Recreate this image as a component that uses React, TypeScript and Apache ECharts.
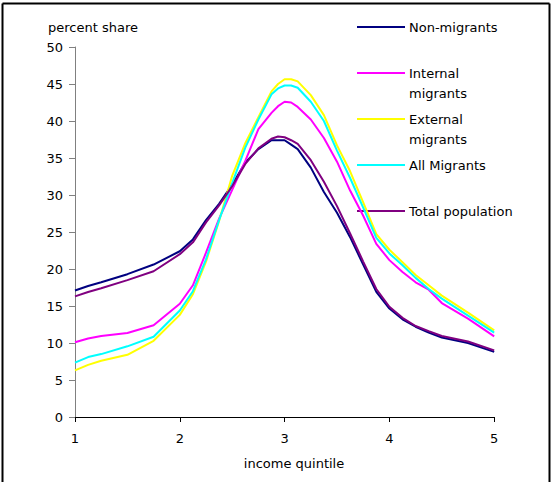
import React, { useEffect, useRef } from "react";
import * as echarts from "echarts";

const xs = [1, 1.125, 1.25, 1.5, 1.75, 2, 2.125, 2.25, 2.375, 2.5, 2.625, 2.75, 2.875, 2.9375, 3, 3.0625, 3.125, 3.25, 3.375, 3.5, 3.625, 3.75, 3.875, 4, 4.125, 4.25, 4.375, 4.5, 4.75, 5];

const nonMigrants = [17.1, 17.7, 18.2, 19.3, 20.6, 22.4, 24.0, 26.6, 28.8, 31.4, 34.4, 36.2, 37.4, 37.4, 37.4, 36.8, 36.2, 33.7, 30.4, 27.6, 24.3, 20.6, 16.9, 14.65, 13.2, 12.2, 11.4, 10.75, 10.0, 8.8];
const internalMigrants = [10.1, 10.6, 10.95, 11.35, 12.4, 15.3, 17.8, 22.2, 26.8, 30.7, 34.6, 38.9, 41.1, 42.0, 42.6, 42.5, 41.9, 40.2, 37.7, 34.5, 30.6, 27.2, 23.4, 21.2, 19.6, 18.2, 17.2, 15.4, 13.3, 10.9];
const externalMigrants = [6.3, 7.05, 7.6, 8.4, 10.3, 13.8, 16.6, 21.0, 26.5, 32.6, 37.0, 40.5, 44.0, 45.0, 45.65, 45.65, 45.35, 43.5, 40.8, 36.7, 33.2, 29.0, 24.7, 22.6, 20.9, 19.2, 17.8, 16.4, 14.1, 11.7];
const allMigrants = [7.35, 8.1, 8.5, 9.55, 10.85, 14.4, 17.0, 21.3, 26.6, 31.6, 36.4, 40.2, 43.6, 44.4, 44.8, 44.8, 44.5, 42.6, 40.0, 36.0, 32.3, 28.3, 24.2, 22.1, 20.5, 18.8, 17.3, 16.0, 13.7, 11.4];
const totalPopulation = [16.3, 16.9, 17.4, 18.5, 19.7, 22.0, 23.6, 26.3, 28.6, 31.2, 34.2, 36.3, 37.6, 37.9, 37.8, 37.4, 36.9, 34.7, 31.8, 28.5, 24.8, 21.0, 17.3, 14.9, 13.4, 12.3, 11.6, 10.95, 10.2, 9.0];

const seriesNames = ["Non-migrants", "Internal migrants", "External migrants", "All Migrants", "Total population"];
const legendLabels = ["Non-migrants", "Internal\nmigrants", "External\nmigrants", "All Migrants", "Total population"];
const seriesColors = ["#000080", "#FF00FF", "#FFFF00", "#00FFFF", "#800080"];
const seriesValues = [nonMigrants, internalMigrants, externalMigrants, allMigrants, totalPopulation];

const FONT = "DejaVu Sans";

export default function App() {
  const ref = useRef<HTMLDivElement>(null);
  useEffect(() => {
    if (!ref.current) return;
    const chart = echarts.init(ref.current, null, { renderer: "svg" });
    const legendGraphics: any[] = [];
    seriesNames.forEach((name, i) => {
      const y = 27 + 46 * i;
      legendGraphics.push({
        type: "line",
        shape: { x1: 357, y1: y, x2: 405, y2: y },
        style: { stroke: seriesColors[i], lineWidth: 2 },
      });
      legendGraphics.push({
        type: "text",
        x: 409,
        y: y - 10,
        style: {
          text: legendLabels[i],
          font: `13px "${FONT}"`,
          fill: "#000",
          verticalAlign: "top",
          lineHeight: 20,
        },
      });
    });
    chart.setOption({
      animation: false,
      backgroundColor: "#ffffff",
      grid: { left: 75, right: 57.8, top: 47, bottom: 65, containLabel: false },
      xAxis: {
        type: "value",
        min: 1,
        max: 5,
        interval: 1,
        splitLine: { show: false },
        axisLine: { lineStyle: { color: "#000", width: 1 } },
        axisTick: { show: true, length: 5, lineStyle: { color: "#000" } },
        axisLabel: { margin: 15, color: "#000", fontFamily: FONT, fontSize: 13 },
      },
      yAxis: {
        type: "value",
        min: 0,
        max: 50,
        interval: 5,
        splitLine: { show: false },
        axisLine: { show: true, lineStyle: { color: "#808080", width: 1 } },
        axisTick: { show: true, length: 6, lineStyle: { color: "#808080" } },
        axisLabel: { margin: 12, color: "#000", fontFamily: FONT, fontSize: 13 },
      },
      series: seriesNames.map((name, i) => ({
        name,
        type: "line",
        data: xs.map((x, j) => [x, seriesValues[i][j]]),
        showSymbol: false,
        symbol: "none",
        lineStyle: { color: seriesColors[i], width: 2 },
        itemStyle: { color: seriesColors[i] },
      })),
      graphic: [
        {
          type: "text",
          x: 48,
          y: 27,
          style: { text: "percent share", font: `13px "${FONT}"`, fill: "#000", verticalAlign: "middle" },
        },
        {
          type: "text",
          x: 294,
          y: 463,
          style: { text: "income quintile", font: `13px "${FONT}"`, fill: "#000", align: "center", verticalAlign: "middle" },
        },
        ...legendGraphics,
        { type: "line", shape: { x1: 2.5, y1: 3.5, x2: 549.5, y2: 3.5 }, style: { stroke: "#000", lineWidth: 2 } },
        { type: "line", shape: { x1: 2.5, y1: 3.5, x2: 2.5, y2: 482 }, style: { stroke: "#000", lineWidth: 2 } },
        { type: "line", shape: { x1: 549.5, y1: 3.5, x2: 549.5, y2: 482 }, style: { stroke: "#000", lineWidth: 2 } },
      ],
    });
    return () => chart.dispose();
  }, []);
  return (
    <div
      ref={ref}
      style={{ position: "fixed", left: 0, top: 0, width: 552, height: 482, background: "#fff" }}
    />
  );
}
